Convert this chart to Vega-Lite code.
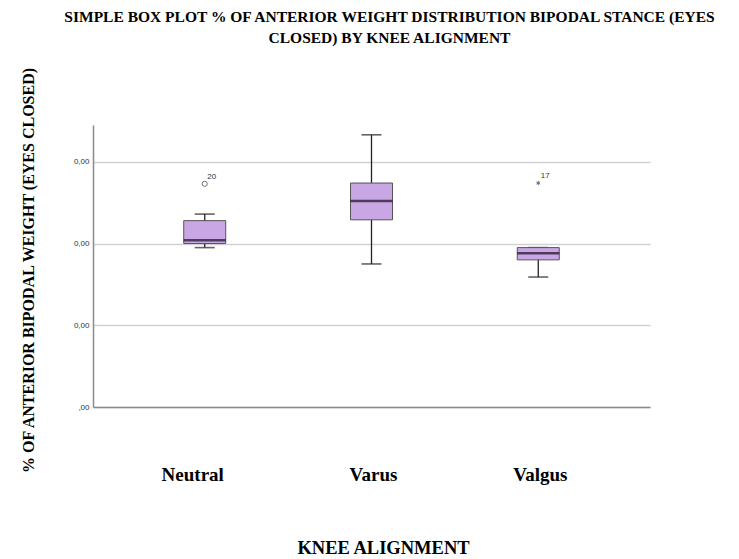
{
  "$schema": "https://vega.github.io/schema/vega-lite/v6.json",
  "autosize": {"type": "none"},
  "padding": {"left": 93, "top": 125, "right": 89, "bottom": 152},
  "width": 557,
  "height": 282,
  "background": "white",
  "title": {
    "text": ["SIMPLE BOX PLOT % OF ANTERIOR WEIGHT DISTRIBUTION BIPODAL STANCE (EYES", "CLOSED) BY KNEE ALIGNMENT"],
    "font": "Liberation Serif",
    "fontSize": 15.5,
    "fontWeight": "bold",
    "color": "#000000",
    "anchor": "middle",
    "frame": "group",
    "dx": 18,
    "offset": 19,
    "lineHeight": 21
  },
  "config": {"view": {"stroke": null}},
  "datasets": {
    "stats": [
      {"align": "Neutral", "lower": 1.95, "q1": 2.0, "median": 2.04, "q3": 2.28, "upper": 2.36},
      {"align": "Varus", "lower": 1.75, "q1": 2.29, "median": 2.52, "q3": 2.74, "upper": 3.33},
      {"align": "Valgus", "lower": 1.59, "q1": 1.80, "median": 1.88, "q3": 1.95, "upper": 1.95}
    ],
    "outliers": [
      {"align": "Neutral", "value": 2.73, "case": "20", "kind": "mild"},
      {"align": "Valgus", "value": 2.74, "case": "17", "kind": "extreme"}
    ]
  },
  "encoding": {
    "x": {
      "field": "align",
      "type": "nominal",
      "sort": ["Neutral", "Varus", "Valgus"],
      "scale": {"type": "band", "domain": ["Neutral", "Varus", "Valgus"], "paddingInner": 0, "paddingOuter": 0.17},
      "axis": {
        "title": "KNEE ALIGNMENT",
        "titleFont": "Liberation Serif",
        "titleFontSize": 18.5,
        "titleFontWeight": "bold",
        "titleColor": "#000000",
        "titleX": 290,
        "titleY": 146,
        "titleBaseline": "alphabetic",
        "titleAnchor": "middle",
        "titleAlign": "center",
        "labelFont": "Liberation Serif",
        "labelFontSize": 19,
        "labelFontWeight": "bold",
        "labelColor": "#000000",
        "labelAngle": 0,
        "labelBaseline": "alphabetic",
        "labelPadding": 73,
        "labelOffset": {"condition": {"test": "datum.value == 'Neutral'", "value": -12}, "value": 2},
        "ticks": false,
        "tickSize": 0,
        "domainColor": "#8a8a8a",
        "domainWidth": 1.5,
        "grid": false
      }
    }
  },
  "layer": [
    {
      "data": {"name": "stats"},
      "mark": {"type": "rule", "color": "#222222", "strokeWidth": 1.3},
      "encoding": {
        "y": {
          "field": "lower",
          "type": "quantitative",
          "scale": {"domain": [0, 3.45], "nice": false, "zero": false},
          "axis": {
            "title": "% OF ANTERIOR BIPODAL WEIGHT (EYES CLOSED)",
            "titleFont": "Liberation Serif",
            "titleFontSize": 16,
            "titleFontWeight": "bold",
            "titleColor": "#000000",
            "titleAngle": -90,
            "titleX": -65,
            "titleY": 145,
            "titleBaseline": "middle",
            "titleAlign": "center",
            "values": [0, 1, 2, 3],
            "labelExpr": "datum.value == 0 ? ',00' : '0,00'",
            "labelFont": "Liberation Sans",
            "labelFontSize": 8,
            "labelColor": "#333333",
            "labelPadding": 4,
            "ticks": false,
            "tickSize": 0,
            "domainColor": "#8a8a8a",
            "domainWidth": 1.5,
            "grid": true,
            "gridColor": "#d2d2d2",
            "gridWidth": 1.5
          }
        },
        "y2": {"field": "upper"}
      }
    },
    {
      "data": {"name": "stats"},
      "mark": {"type": "tick", "color": "#222222", "thickness": 1.6, "size": 20},
      "encoding": {"y": {"field": "lower", "type": "quantitative"}}
    },
    {
      "data": {"name": "stats"},
      "mark": {"type": "tick", "color": "#222222", "thickness": 1.6, "size": 20},
      "encoding": {"y": {"field": "upper", "type": "quantitative"}}
    },
    {
      "data": {"name": "stats"},
      "mark": {"type": "bar", "fill": "#c9a6e4", "stroke": "#555555", "strokeWidth": 1, "size": 42},
      "encoding": {
        "y": {"field": "q1", "type": "quantitative"},
        "y2": {"field": "q3"}
      }
    },
    {
      "data": {"name": "stats"},
      "mark": {"type": "tick", "color": "#1a0f26", "thickness": 2.5, "size": 42},
      "encoding": {"y": {"field": "median", "type": "quantitative"}}
    },
    {
      "data": {"name": "outliers"},
      "transform": [{"filter": "datum.kind == 'mild'"}],
      "mark": {"type": "point", "shape": "circle", "filled": false, "color": "#333333", "size": 26, "strokeWidth": 1},
      "encoding": {"y": {"field": "value", "type": "quantitative"}}
    },
    {
      "data": {"name": "outliers"},
      "transform": [{"filter": "datum.kind == 'extreme'"}],
      "mark": {"type": "point", "shape": "M0,-1L0,1M-0.87,-0.5L0.87,0.5M-0.87,0.5L0.87,-0.5", "filled": false, "color": "#333333", "size": 18, "strokeWidth": 1},
      "encoding": {"y": {"field": "value", "type": "quantitative"}}
    },
    {
      "data": {"name": "outliers"},
      "mark": {"type": "text", "font": "Liberation Sans", "fontSize": 8, "color": "#333333", "dx": 7, "dy": -7, "align": "center"},
      "encoding": {
        "y": {"field": "value", "type": "quantitative"},
        "text": {"field": "case"}
      }
    }
  ]
}
